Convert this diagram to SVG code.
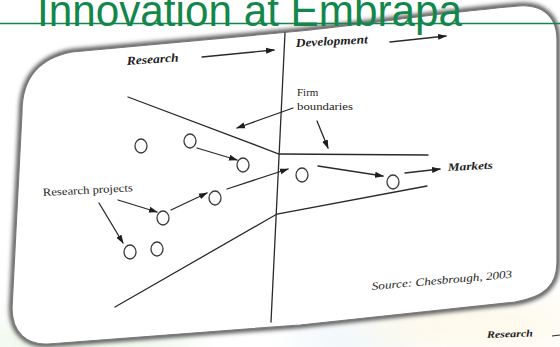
<svg xmlns="http://www.w3.org/2000/svg" width="560" height="347" viewBox="0 0 560 347">
<defs>
<style>
.ln{fill:none;stroke:#2a2a2a;stroke-width:1.3;stroke-linecap:round}
.ar{fill:none;stroke:#2a2a2a;stroke-width:1.3;stroke-linecap:round;marker-end:url(#ah)}
.c{fill:none;stroke:#3a3a3a;stroke-width:1.3}
.bi{font-family:"Liberation Serif","DejaVu Serif",serif;font-weight:bold;font-style:italic;fill:#1e1e1e}
.it{font-family:"Liberation Serif","DejaVu Serif",serif;font-style:italic;fill:#1e1e1e}
.rg{font-family:"Liberation Serif","DejaVu Serif",serif;fill:#1e1e1e}
</style>
<marker id="ah" markerWidth="9" markerHeight="7" refX="8" refY="3.5" orient="auto" markerUnits="userSpaceOnUse">
<path d="M0,0.5 L9,3.5 L0,6.5 Z" fill="#1e1e1e"/>
</marker>
<filter id="blur" x="-10%" y="-10%" width="120%" height="120%"><feGaussianBlur stdDeviation="2.2"/></filter>
<filter id="soft" x="-50%" y="-50%" width="200%" height="200%"><feGaussianBlur stdDeviation="18"/></filter>
<path id="cardShape" d="M22,112 C22,78 40,58 72,52 L300,31 C380,22 450,12 518,6 C540,4 557,14 557,40 L557,262 C557,285 545,297 515,302 L300,325 L48,344 C26,345 12,332 12,308 Z"/>
</defs>
<rect width="560" height="347" fill="#ffffff"/>
<g id="bg-tints" filter="url(#soft)" opacity="0.5">
<ellipse cx="80" cy="345" rx="120" ry="22" fill="#d9efd0"/>
<ellipse cx="360" cy="340" rx="70" ry="20" fill="#dcecf5"/>
<ellipse cx="470" cy="325" rx="110" ry="22" fill="#fbf1cf"/>
</g>
<g id="card">
<use href="#cardShape" fill="none" stroke="#555555" stroke-width="6" filter="url(#blur)"/>
<use href="#cardShape" fill="#ffffff" stroke="#7a7a7a" stroke-width="1.2"/>
</g>
<g id="connectors">
<line class="ln" x1="285" y1="33" x2="271" y2="322"/>
<polyline class="ln" points="128,97 279,154 428,155"/>
<polyline class="ln" points="115,307 277,214 427,186"/>
<line class="ar" x1="202" y1="57" x2="274" y2="50"/>
<line class="ar" x1="390" y1="42" x2="446" y2="36"/>
<line class="ar" x1="293" y1="108" x2="237" y2="128"/>
<line class="ar" x1="317" y1="121" x2="328" y2="148"/>
<line class="ar" x1="197" y1="148" x2="237" y2="160"/>
<line class="ar" x1="171" y1="210" x2="207" y2="193"/>
<line class="ar" x1="118" y1="200" x2="157" y2="212"/>
<line class="ar" x1="99" y1="203" x2="123" y2="243"/>
<line class="ar" x1="227" y1="189" x2="288" y2="169"/>
<line class="ar" x1="318" y1="166" x2="383" y2="176"/>
<line class="ar" x1="405" y1="173" x2="440" y2="169"/>
</g>
<g id="projects">
<ellipse class="c" cx="141" cy="146" rx="6" ry="7"/>
<ellipse class="c" cx="190" cy="141" rx="6" ry="7"/>
<ellipse class="c" cx="243" cy="165" rx="6" ry="7"/>
<ellipse class="c" cx="215" cy="198" rx="6" ry="7"/>
<ellipse class="c" cx="163" cy="218" rx="6" ry="7"/>
<ellipse class="c" cx="130" cy="252" rx="6" ry="7"/>
<ellipse class="c" cx="157" cy="249" rx="6" ry="7"/>
<ellipse class="c" cx="302" cy="175" rx="6" ry="7"/>
<ellipse class="c" cx="393" cy="182" rx="6" ry="7"/>
</g>
<g id="labels">
<text class="bi" x="127" y="65" font-size="12" textLength="52" lengthAdjust="spacingAndGlyphs" transform="rotate(-4 127 65)">Research</text>
<text class="bi" x="296" y="47" font-size="12" textLength="72" lengthAdjust="spacingAndGlyphs" transform="rotate(-3 296 47)">Development</text>
<text class="rg" x="297" y="96" font-size="11">Firm</text>
<text class="rg" x="297" y="110" font-size="11" textLength="56" lengthAdjust="spacingAndGlyphs">boundaries</text>
<text class="rg" x="43" y="196" font-size="11" textLength="90" lengthAdjust="spacingAndGlyphs" transform="rotate(-3 43 196)">Research projects</text>
<text class="bi" x="448" y="171" font-size="11" textLength="45" lengthAdjust="spacingAndGlyphs" transform="rotate(-3 448 171)">Markets</text>
<text class="it" x="372" y="290" font-size="11" textLength="141" lengthAdjust="spacingAndGlyphs" transform="rotate(-5 372 290)">Source: Chesbrough, 2003</text>
<text class="bi" x="487" y="338" font-size="10" textLength="46" lengthAdjust="spacingAndGlyphs" transform="rotate(-2 487 338)">Research</text>
<line x1="552" y1="336" x2="560" y2="335" stroke="#2a2a2a" stroke-width="1"/>
</g>
<g id="title">
<line x1="0" y1="23.5" x2="560" y2="23.5" stroke="#13874b" stroke-width="1.6"/>
<text x="37" y="26" font-family="'Liberation Sans',Arial,sans-serif" font-size="45" fill="#13874b" textLength="425" lengthAdjust="spacingAndGlyphs">Innovation at Embrapa</text>
</g>
</svg>
